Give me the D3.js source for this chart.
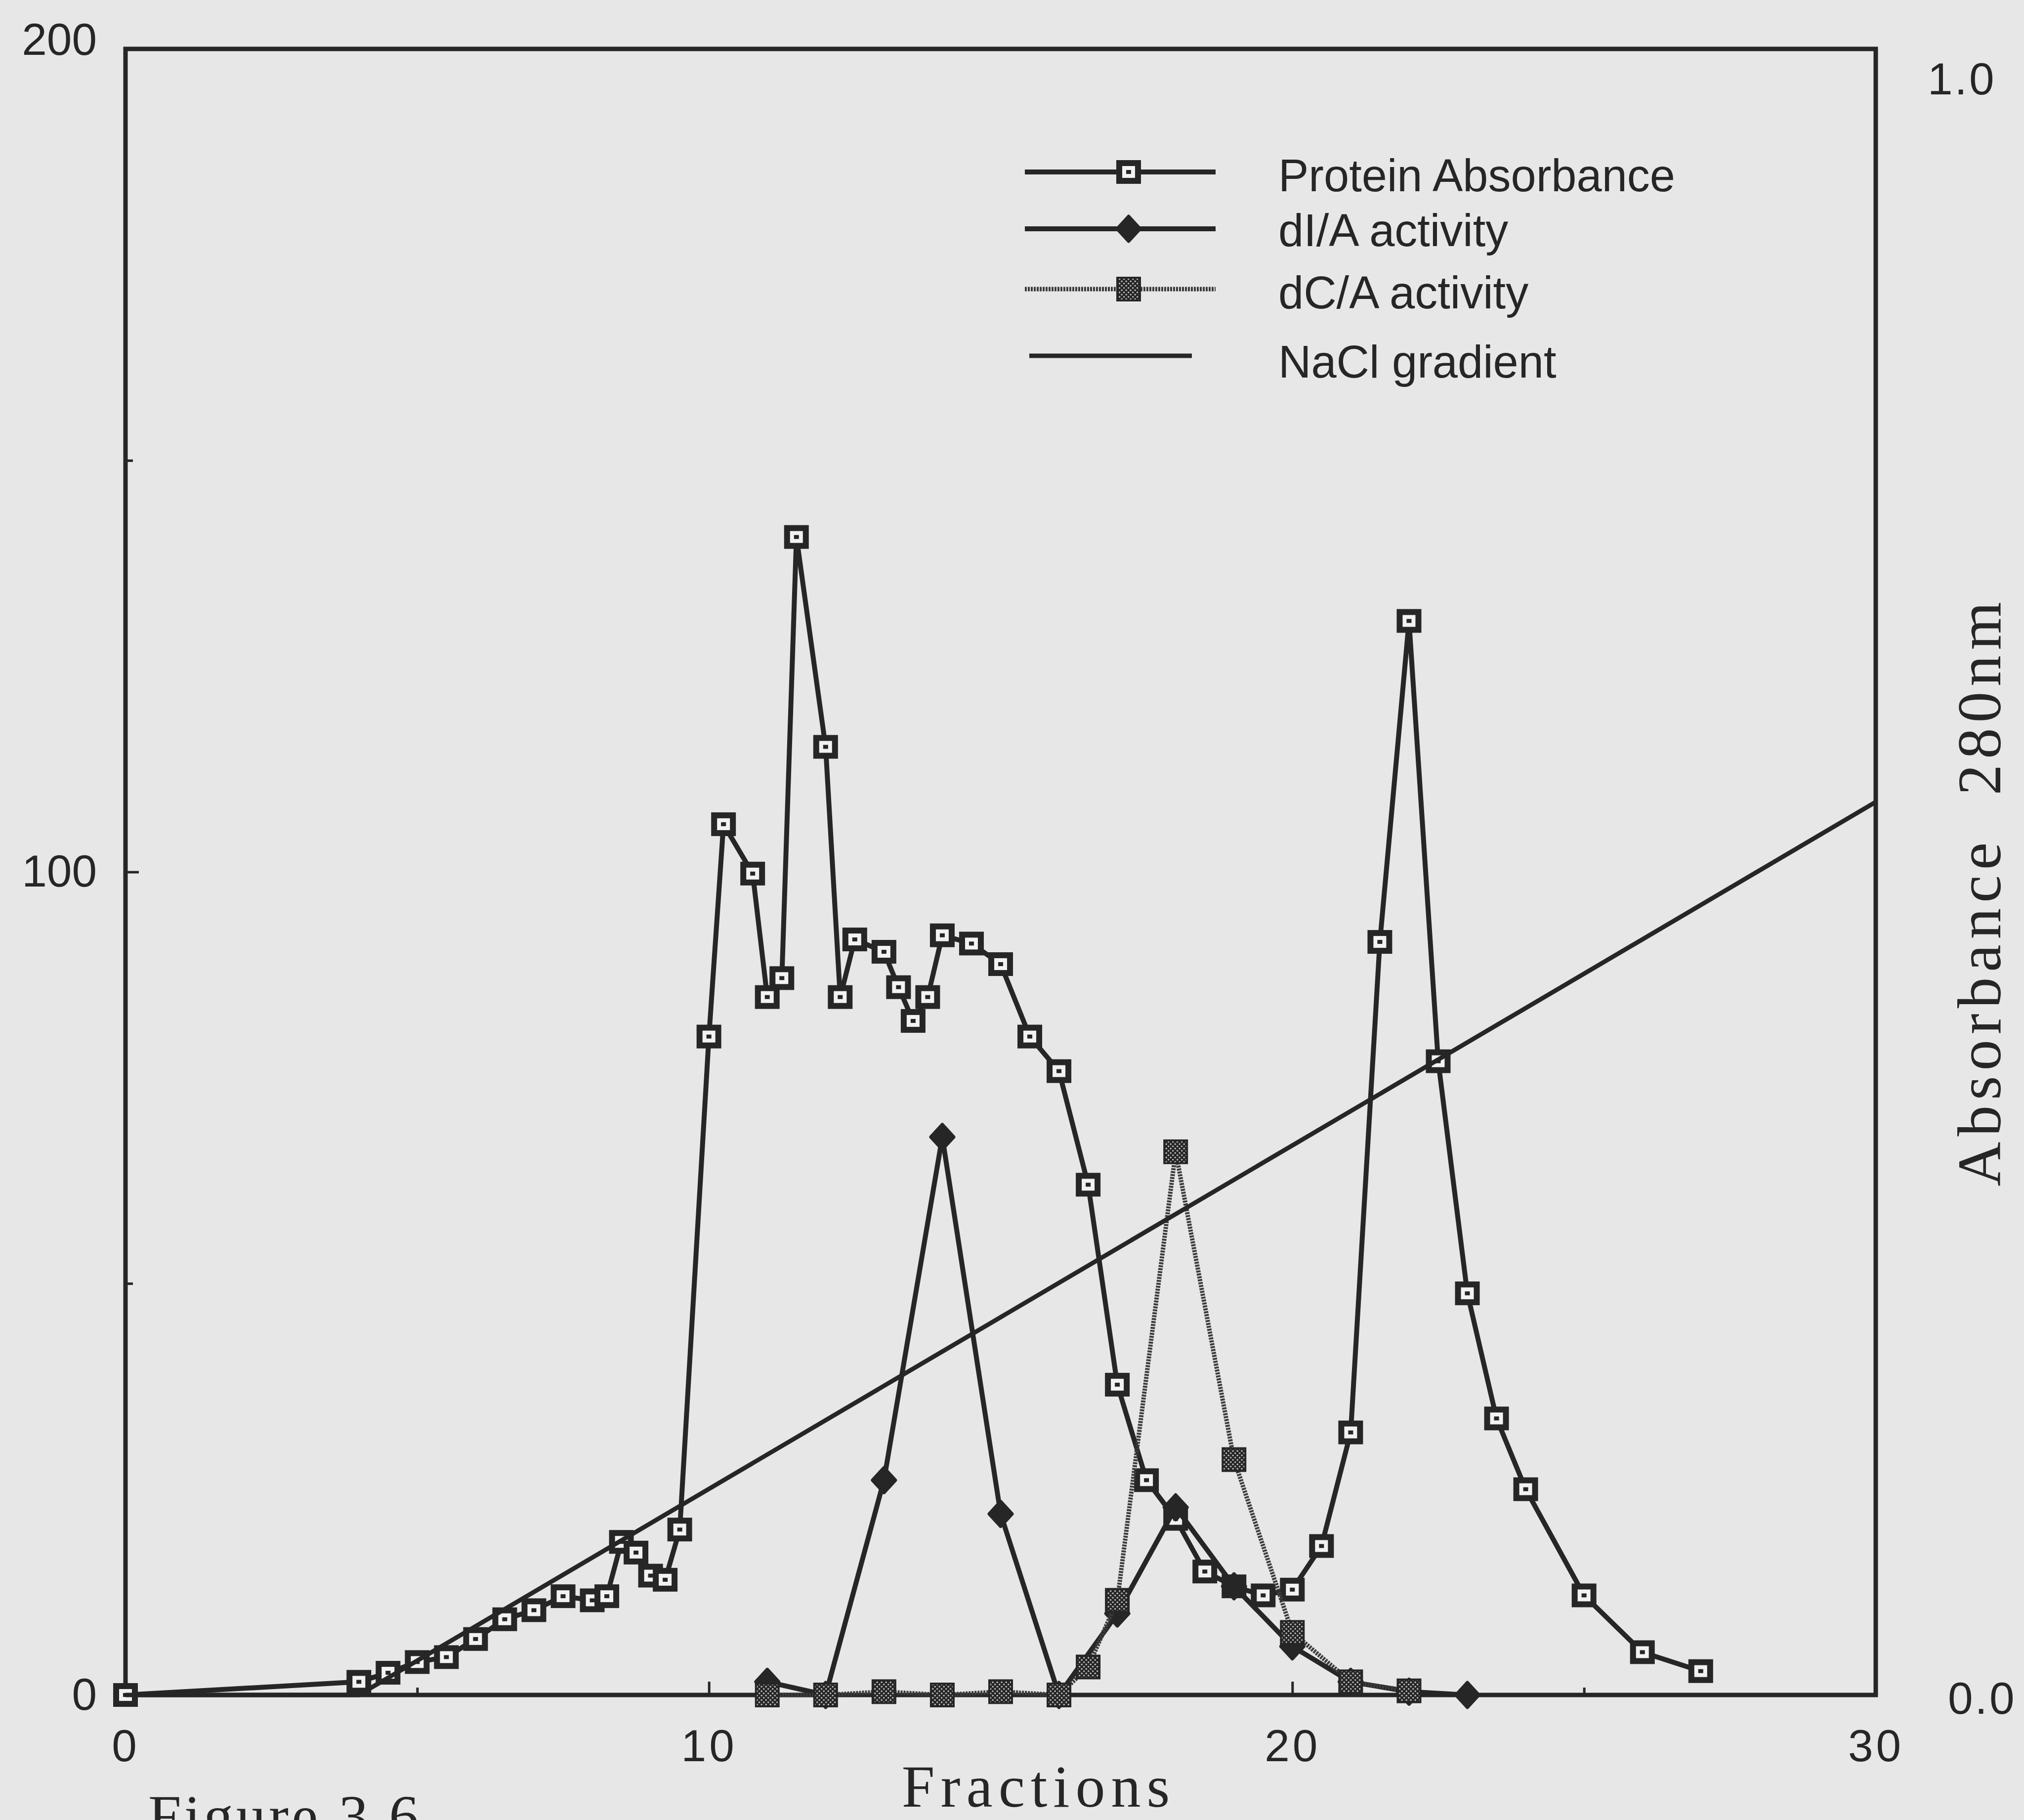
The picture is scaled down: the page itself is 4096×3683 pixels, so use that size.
<!DOCTYPE html>
<html>
<head>
<meta charset="utf-8">
<script src="https://cdn.jsdelivr.net/npm/d3@7"></script>
<style>
  html, body { margin: 0; padding: 0; background: #e7e7e7; overflow: hidden; }
  svg { display: block; }
</style>
</head>
<body>
<svg id="chart"></svg>
<script>
// fraction number / value pairs (left axis units)
const proteinX = [0, 4, 4.5, 5, 5.5, 6, 6.5, 7, 7.5, 8, 8.25, 8.5, 8.75, 9, 9.25, 9.5, 10, 10.25, 10.75, 11,
  11.25, 11.5, 12, 12.25, 12.5, 13, 13.25, 13.5, 13.75, 14, 14.5, 15, 15.5, 16, 16.5, 17, 17.5, 18, 18.5, 19,
  19.5, 20, 20.5, 21, 21.5, 22, 22.5, 23, 23.5, 24, 25, 26, 27];
const proteinY = [0, 1.6, 2.7, 4, 4.6, 6.8, 9.2, 10.3, 12, 11.5, 12, 18.6, 17.3, 14.5, 14, 20.1, 80, 105.8, 99.8, 84.8,
  87.1, 140.7, 115.2, 84.8, 91.8, 90.3, 86, 81.9, 84.8, 92.3, 91.3, 88.8, 80, 75.8, 62, 37.7, 26.1, 21.4, 15, 13.2,
  12.1, 12.8, 18.1, 31.9, 91.5, 130.5, 77, 48.8, 33.6, 25, 12.1, 5.2, 2.9];

const dIAX = [11, 12, 13, 14, 15, 16, 17, 18, 19, 20, 21, 22, 23];
const dIAY = [1.6, 0, 26.1, 67.8, 22, 0, 9.9, 22.8, 13.2, 5.9, 1.6, 0.4, 0];

const dCAX = [11, 12, 13, 14, 15, 16, 16.5, 17, 18, 19, 20, 21, 22];
const dCAY = [0, 0, 0.4, 0, 0.4, 0, 3.4, 11.5, 66, 28.6, 7.6, 1.6, 0.5];

const naclX = [0, 4, 30];
const naclY = [0, 0, 108.5];

const xLabels = [0, 10, 20, 30];
const xMajor = [10, 20];
const xMinor = [5, 15, 25];
const yLabels = [0, 100, 200];
const yMajor = [100];
const yMinor = [50, 150];
const rightLabels = [1, 0];

const legendNames = ["Protein Absorbance", "dI/A activity", "dC/A activity", "NaCl gradient"];

const W = 4096, H = 3683;
const ink = "#262626";
const sans = "'Liberation Sans', Arial, Helvetica, sans-serif";
const serif = "'Liberation Serif', 'Times New Roman', serif";

const svg = d3.select("#chart").attr("width", W).attr("height", H);
svg.append("rect").attr("width", W).attr("height", H).attr("fill", "#e7e7e7");

const x = d3.scaleLinear().domain([0, 30]).range([254, 3796]);
const y = d3.scaleLinear().domain([0, 200]).range([3430, 99]);
const yR = d3.scaleLinear().domain([0, 1]).range([3430, 99]);

// hatch fill used by the dC/A markers
const defs = svg.append("defs");
const pat = defs.append("pattern").attr("id", "hatch")
  .attr("patternUnits", "userSpaceOnUse").attr("width", 9).attr("height", 9);
pat.append("rect").attr("width", 9).attr("height", 9).attr("fill", "#262626");
pat.append("circle").attr("cx", 2.2).attr("cy", 2.2).attr("r", 1.7).attr("fill", "#bdbdbd");
pat.append("circle").attr("cx", 6.7).attr("cy", 6.7).attr("r", 1.7).attr("fill", "#bdbdbd");

// frame
svg.append("rect")
  .attr("x", x(0)).attr("y", y(200))
  .attr("width", x(30) - x(0)).attr("height", y(0) - y(200))
  .attr("fill", "none").attr("stroke", ink).attr("stroke-width", 9);

function styleTicks(g) {
  g.select(".domain").remove();
  g.selectAll(".tick line").attr("stroke", ink).attr("stroke-width", 5);
}

// inward ticks
svg.append("g").attr("transform", `translate(0,${y(0)})`)
  .call(d3.axisBottom(x).tickValues(xMajor).tickSize(-27).tickFormat(""))
  .call(styleTicks);
svg.append("g").attr("transform", `translate(0,${y(0)})`)
  .call(d3.axisBottom(x).tickValues(xMinor).tickSize(-15).tickFormat(""))
  .call(styleTicks);
svg.append("g").attr("transform", `translate(${x(0)},0)`)
  .call(d3.axisLeft(y).tickValues(yMajor).tickSize(-27).tickFormat(""))
  .call(styleTicks);
svg.append("g").attr("transform", `translate(${x(0)},0)`)
  .call(d3.axisLeft(y).tickValues(yMinor).tickSize(-15).tickFormat(""))
  .call(styleTicks);

// tick labels
const xl = svg.append("g").attr("transform", `translate(0,${y(0)})`)
  .call(d3.axisBottom(x).tickValues(xLabels).tickSize(0).tickPadding(69).tickFormat(d3.format("d")));
xl.select(".domain").remove();
xl.selectAll("text").attr("font-family", sans).attr("font-size", 91).attr("fill", ink)
  .attr("letter-spacing", 6);

const yl = svg.append("g").attr("transform", `translate(${x(0)},0)`)
  .call(d3.axisLeft(y).tickValues(yLabels).tickSize(0).tickPadding(58).tickFormat(d3.format("d")));
yl.select(".domain").remove();
yl.selectAll("text").attr("font-family", sans).attr("font-size", 91).attr("fill", ink)
  .attr("dy", d => d === 200 ? "0.13em" : "0.32em");

svg.append("g").selectAll("text")
  .data(rightLabels)
  .join("text")
  .attr("x", d => d === 1 ? 3901 : 3942)
  .attr("y", d => yR(d) + (d === 1 ? 92 : 38))
  .attr("font-family", sans).attr("font-size", 91).attr("fill", ink)
  .attr("letter-spacing", 4)
  .text(d => d3.format(".1f")(d));

// axis titles
svg.append("text")
  .attr("x", 2102).attr("y", 3656)
  .attr("text-anchor", "middle")
  .attr("font-family", serif).attr("font-size", 120).attr("letter-spacing", 12)
  .attr("fill", ink)
  .text("Fractions");

svg.append("text")
  .attr("transform", "translate(4048,1804) rotate(-90)")
  .attr("text-anchor", "middle")
  .attr("font-family", serif).attr("font-size", 125).attr("letter-spacing", 11)
  .attr("fill", ink)
  .attr("xml:space", "preserve")
  .text("Absorbance  280nm");

// caption, cut by the page edge as in the scan
svg.append("text")
  .attr("x", 300).attr("y", 3716)
  .attr("font-family", serif).attr("font-size", 120).attr("letter-spacing", 6)
  .attr("fill", ink)
  .text("Figure 3.6");

// marker shapes
function squareMark(g, cx, cy) {
  g.append("rect").attr("x", cx - 19).attr("y", cy - 18).attr("width", 38).attr("height", 36)
    .attr("fill", "#f2f2f2").attr("stroke", ink).attr("stroke-width", 12);
  g.append("rect").attr("x", cx - 5).attr("y", cy - 4).attr("width", 10).attr("height", 8).attr("fill", ink);
}
function diamondMark(g, cx, cy) {
  g.append("path")
    .attr("d", `M${cx},${cy - 25}L${cx + 23},${cy}L${cx},${cy + 25}L${cx - 23},${cy}Z`)
    .attr("fill", ink).attr("stroke", ink).attr("stroke-width", 7).attr("stroke-linejoin", "round");
}
function hatchMark(g, cx, cy) {
  g.append("rect").attr("x", cx - 23).attr("y", cy - 23).attr("width", 46).attr("height", 46)
    .attr("fill", "url(#hatch)").attr("stroke", ink).attr("stroke-width", 4);
}

const line = d3.line().x(d => x(d[0])).y(d => y(d[1]));
const zip = (a, b) => a.map((v, i) => [v, b[i]]);

const series = [
  { pts: zip(proteinX, proteinY), mark: squareMark, stroke: ink, dash: null, width: 10 },
  { pts: zip(dIAX, dIAY), mark: diamondMark, stroke: ink, dash: null, width: 10 },
  { pts: zip(dCAX, dCAY), mark: hatchMark, stroke: "#3c3c3c", dash: "4 2", width: 9 }
];

series.forEach(s => {
  const g = svg.append("g");
  g.append("path").attr("d", line(s.pts)).attr("fill", "none")
    .attr("stroke", s.stroke).attr("stroke-width", s.width)
    .attr("stroke-dasharray", s.dash).attr("stroke-linejoin", "round");
  s.pts.forEach(p => s.mark(g, x(p[0]), y(p[1])));
});

// NaCl gradient sits on top
svg.append("path").attr("d", line(zip(naclX, naclY))).attr("fill", "none")
  .attr("stroke", ink).attr("stroke-width", 9);

// legend
const legendRows = [
  { ly: 348, ty: 387, x1: 2074, x2: 2460 },
  { ly: 463, ty: 498, x1: 2074, x2: 2460 },
  { ly: 585, ty: 624, x1: 2074, x2: 2460 },
  { ly: 720, ty: 764, x1: 2083, x2: 2412 }
];
const legendStyle = [series[0], series[1], series[2], { mark: null, stroke: ink, dash: null, width: 9 }];
const lg = svg.append("g");
legendRows.forEach((r, i) => {
  const st = legendStyle[i];
  lg.append("line").attr("x1", r.x1).attr("x2", r.x2).attr("y1", r.ly).attr("y2", r.ly)
    .attr("stroke", st.stroke).attr("stroke-width", st.width).attr("stroke-dasharray", st.dash);
  if (st.mark) st.mark(lg, 2284, r.ly);
  lg.append("text").attr("x", 2587).attr("y", r.ty)
    .attr("font-family", sans).attr("font-size", 92).attr("fill", ink)
    .text(legendNames[i]);
});
</script>
</body>
</html>
